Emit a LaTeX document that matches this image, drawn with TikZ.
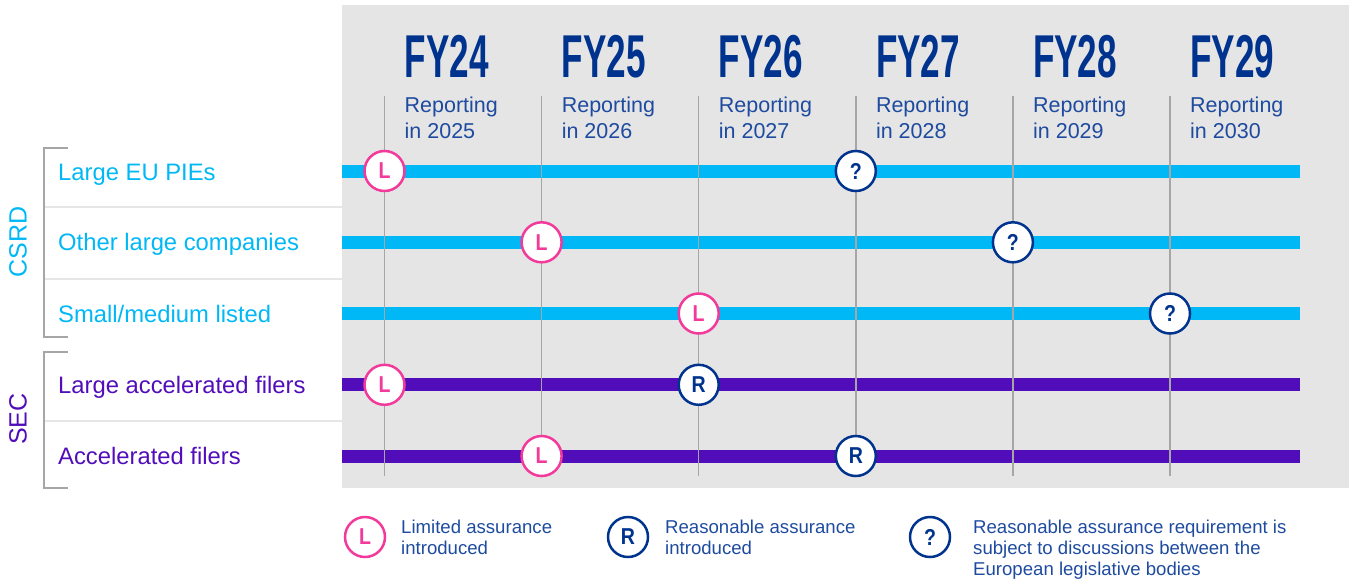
\documentclass[tikz,border=0pt]{standalone}
\usepackage{fontspec}
\setmainfont{Liberation Sans}
\newfontfamily\fyfont[FakeStretch=0.58]{Liberation Sans Bold}
\newfontfamily\tagfont[FakeStretch=0.85]{Liberation Sans Bold}

\definecolor{kblue}{HTML}{00338D}
\definecolor{ktext}{HTML}{1E4B9F}
\definecolor{kcyan}{HTML}{00B8F5}
\definecolor{kpurple}{HTML}{510DBA}
\definecolor{kpink}{HTML}{F23A9B}
\definecolor{panelgray}{HTML}{E5E5E5}
\definecolor{linegray}{HTML}{A6A6A6}
\definecolor{sepgray}{HTML}{E6E6E6}

\begin{document}
\begin{tikzpicture}[x=1pt, y=-1pt,
    cbar/.style={line width=13pt, kcyan},
    pbar/.style={line width=13pt, kpurple},
    colline/.style={line width=1.4pt, linegray},
    sepline/.style={line width=2pt, sepgray},
    bracket/.style={line width=2pt, linegray},
    tagcirc/.style={circle, fill=white, line width=2.5pt, minimum size=40pt, inner sep=0pt, font=\tagfont\fontsize{23}{23}\selectfont},
    ltag/.style={tagcirc, draw=kpink, text=kpink},
    btag/.style={tagcirc, draw=kblue, text=kblue},
    fylabel/.style={anchor=base west, inner sep=0pt, text=kblue, font=\fyfont\fontsize{60.5}{62}\selectfont},
    replabel/.style={anchor=north west, inner sep=0pt, align=left, text=ktext, font=\fontsize{21.5}{26.5}\selectfont},
    rowlabel/.style={anchor=base west, inner sep=0pt, font=\fontsize{23.8}{27}\selectfont},
    grouplabel/.style={rotate=90, inner sep=0pt, font=\fontsize{25}{28}\selectfont},
    keytext/.style={anchor=north west, inner sep=0pt, align=left, text=ktext, font=\fontsize{18.6}{21.3}\selectfont}]
  \useasboundingbox (0,0) rectangle (1349,579);
  \fill[panelgray] (342,5) rectangle (1349,488);

  % rows
  \coordinate (pie) at (342,171);
  \coordinate (olc) at (342,242.3);
  \coordinate (sml) at (342,313.5);
  \coordinate (laf) at (342,384.8);
  \coordinate (acf) at (342,456);
  \coordinate (barend) at (1300,0);

  \draw[sepline] (45,207) -- (342,207);
  \draw[sepline] (45,279) -- (342,279);
  \draw[sepline] (45,421) -- (342,421);

  \draw[bracket] (68,148) -- (44,148) -- (44,337) -- (68,337);
  \draw[bracket] (68,352) -- (44,352) -- (44,488) -- (68,488);
  \node[grouplabel, text=kcyan] (csrd) at (18,242) {CSRD};
  \node[grouplabel, text=kpurple] (sec) at (18,419) {SEC};

  \node[rowlabel, text=kcyan] (pie-t) at (58,180) {Large EU PIEs};
  \node[rowlabel, text=kcyan] (olc-t) at (58,250.8) {Other large companies};
  \node[rowlabel, text=kcyan] (sml-t) at (58,322) {Small/medium listed};
  \node[rowlabel, text=kpurple] (laf-t) at (58,393.3) {Large accelerated filers};
  \node[rowlabel, text=kpurple] (acf-t) at (58,464.5) {Accelerated filers};

  \draw[cbar] (pie) -- (pie -| barend);
  \draw[cbar] (olc) -- (olc -| barend);
  \draw[cbar] (sml) -- (sml -| barend);
  \draw[pbar] (laf) -- (laf -| barend);
  \draw[pbar] (acf) -- (acf -| barend);

  % years
  \foreach \i/\yr in {0/24,1/25,2/26,3/27,4/28,5/29} {
    \pgfmathsetmacro\cx{384.5+157.1*\i}
    \pgfmathtruncatemacro\ry{2001+\yr}
    \coordinate (c\i) at (\cx,96);
    \coordinate (c\i-b) at (\cx,476);
    \draw[colline] (c\i) -- (c\i-b);
    \node[fylabel] (fy\i) at (\cx+20,77) {FY\yr};
    \node[replabel] (rep\i) at (\cx+20,96.5) {Reporting\\in \ry};
  }

  \node[ltag] (pie-l) at (c0 |- pie) {L};
  \node[btag] (pie-q) at (c3 |- pie) {?};
  \node[ltag] (olc-l) at (c1 |- olc) {L};
  \node[btag] (olc-q) at (c4 |- olc) {?};
  \node[ltag] (sml-l) at (c2 |- sml) {L};
  \node[btag] (sml-q) at (c5 |- sml) {?};
  \node[ltag] (laf-l) at (c0 |- laf) {L};
  \node[btag] (laf-r) at (c2 |- laf) {R};
  \node[ltag] (acf-l) at (c1 |- acf) {L};
  \node[btag] (acf-r) at (c3 |- acf) {R};

  % legend
  \node[ltag] (key-l) at (365,537) {L};
  \node[keytext] (key-lt) at (401,519.5) {Limited assurance\\introduced};
  \node[btag] (key-r) at (628,537) {R};
  \node[keytext] (key-rt) at (665,519.5) {Reasonable assurance\\introduced};
  \node[btag] (key-q) at (930,537) {?};
  \node[keytext] (key-qt) at (973,519.5) {Reasonable assurance requirement is\\subject to discussions between the\\European legislative bodies};
\end{tikzpicture}
\end{document}
